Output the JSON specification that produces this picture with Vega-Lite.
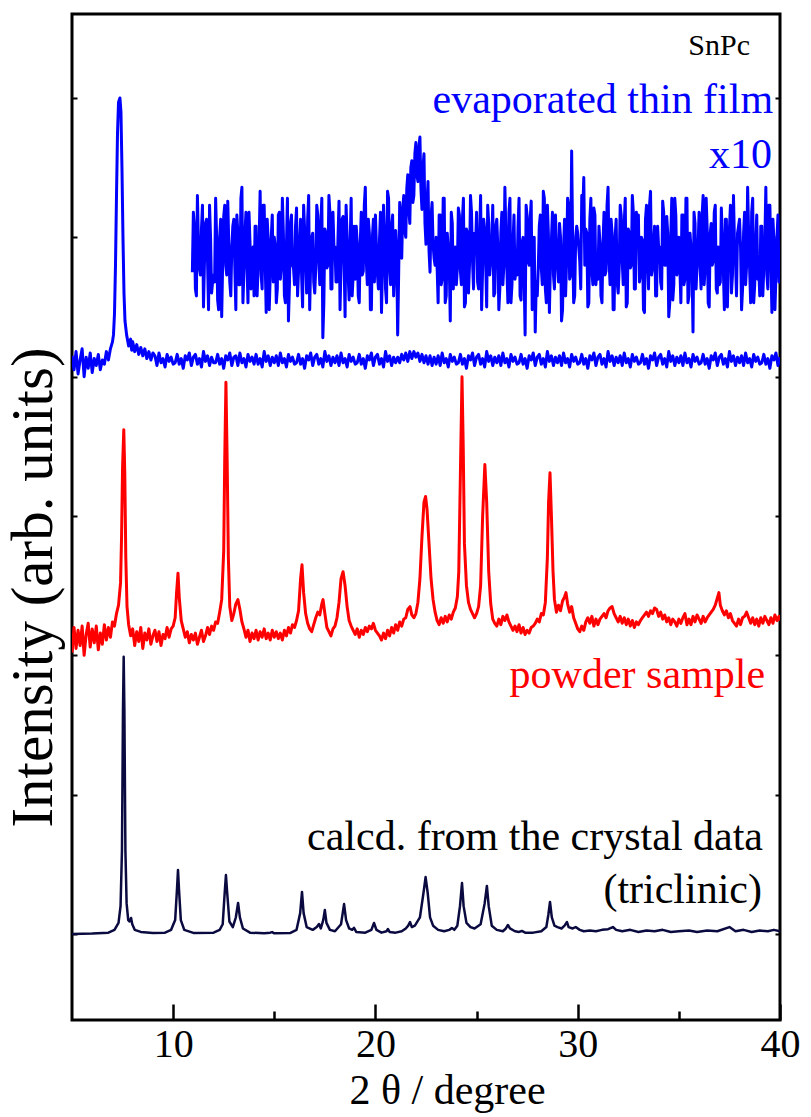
{
"$schema": "https://vega.github.io/schema/vega-lite/v6.json",
"width": 708, "height": 1006,
"autosize": {"type": "none"},
"padding": {"left": 72, "top": 14, "right": 31, "bottom": 97},
"config": {"view": {"stroke": "black", "strokeWidth": 3}, "font": "Liberation Serif, Times New Roman, Times, serif"},
"datasets": {
"calc": [{"x":5.0,"y":0},{"x":6.0,"y":0.003},{"x":6.8,"y":0.01},{"x":7.1,"y":0.03},{"x":7.3,"y":0.08},{"x":7.4,"y":0.2},{"x":7.47,"y":0.6},{"x":7.52,"y":1.6},{"x":7.555,"y":1.99},{"x":7.59,"y":1.6},{"x":7.64,"y":0.6},{"x":7.7,"y":0.22},{"x":7.78,"y":0.1},{"x":7.85,"y":0.09},{"x":7.92,"y":0.115},{"x":7.98,"y":0.07},{"x":8.1,"y":0.03},{"x":8.4,"y":0.015},{"x":9.0,"y":0.008},{"x":9.6,"y":0.01},{"x":9.9,"y":0.03},{"x":10.1,"y":0.1},{"x":10.19,"y":0.32},{"x":10.24,"y":0.459},{"x":10.29,"y":0.32},{"x":10.38,"y":0.1},{"x":10.55,"y":0.03},{"x":11.0,"y":0.008},{"x":12.0,"y":0.01},{"x":12.3,"y":0.03},{"x":12.45,"y":0.07},{"x":12.55,"y":0.3},{"x":12.61,"y":0.423},{"x":12.67,"y":0.3},{"x":12.78,"y":0.09},{"x":12.95,"y":0.05},{"x":13.1,"y":0.12},{"x":13.21,"y":0.223},{"x":13.3,"y":0.12},{"x":13.45,"y":0.04},{"x":13.8,"y":0.01},{"x":14.5,"y":0.005},{"x":14.8,"y":0.01},{"x":14.89,"y":0.014},{"x":15.0,"y":0.005},{"x":15.8,"y":0.008},{"x":16.1,"y":0.03},{"x":16.28,"y":0.15},{"x":16.37,"y":0.302},{"x":16.45,"y":0.15},{"x":16.6,"y":0.05},{"x":16.9,"y":0.03},{"x":17.1,"y":0.05},{"x":17.21,"y":0.072},{"x":17.3,"y":0.04},{"x":17.42,"y":0.1},{"x":17.5,"y":0.172},{"x":17.58,"y":0.08},{"x":17.75,"y":0.03},{"x":18.0,"y":0.02},{"x":18.3,"y":0.07},{"x":18.45,"y":0.215},{"x":18.55,"y":0.1},{"x":18.7,"y":0.04},{"x":18.85,"y":0.03},{"x":18.94,"y":0.045},{"x":19.05,"y":0.015},{"x":19.5,"y":0.01},{"x":19.8,"y":0.03},{"x":19.93,"y":0.079},{"x":20.05,"y":0.03},{"x":20.3,"y":0.01},{"x":20.55,"y":0.02},{"x":20.62,"y":0.036},{"x":20.7,"y":0.015},{"x":21.0,"y":0.01},{"x":21.3,"y":0.02},{"x":21.5,"y":0.04},{"x":21.62,"y":0.06},{"x":21.71,"y":0.086},{"x":21.8,"y":0.05},{"x":21.95,"y":0.06},{"x":22.2,"y":0.12},{"x":22.38,"y":0.3},{"x":22.48,"y":0.409},{"x":22.58,"y":0.3},{"x":22.7,"y":0.12},{"x":22.85,"y":0.06},{"x":23.1,"y":0.03},{"x":23.4,"y":0.02},{"x":23.65,"y":0.03},{"x":23.78,"y":0.043},{"x":23.9,"y":0.03},{"x":24.05,"y":0.06},{"x":24.18,"y":0.2},{"x":24.28,"y":0.366},{"x":24.36,"y":0.2},{"x":24.5,"y":0.08},{"x":24.7,"y":0.05},{"x":24.9,"y":0.04},{"x":25.2,"y":0.07},{"x":25.4,"y":0.22},{"x":25.51,"y":0.345},{"x":25.6,"y":0.2},{"x":25.75,"y":0.06},{"x":26.0,"y":0.03},{"x":26.3,"y":0.02},{"x":26.45,"y":0.04},{"x":26.55,"y":0.065},{"x":26.65,"y":0.04},{"x":26.9,"y":0.02},{"x":27.1,"y":0.015},{"x":27.24,"y":0.022},{"x":27.4,"y":0.01},{"x":27.8,"y":0.01},{"x":28.2,"y":0.02},{"x":28.45,"y":0.05},{"x":28.55,"y":0.14},{"x":28.63,"y":0.23},{"x":28.72,"y":0.12},{"x":28.85,"y":0.06},{"x":29.0,"y":0.05},{"x":29.2,"y":0.04},{"x":29.35,"y":0.06},{"x":29.47,"y":0.086},{"x":29.55,"y":0.05},{"x":29.75,"y":0.04},{"x":29.9,"y":0.05},{"x":30.1,"y":0.03},{"x":30.3,"y":0.02},{"x":30.6,"y":0.025},{"x":30.9,"y":0.02},{"x":31.2,"y":0.03},{"x":31.5,"y":0.035},{"x":31.74,"y":0.05},{"x":31.9,"y":0.03},{"x":32.2,"y":0.02},{"x":32.6,"y":0.03},{"x":33.0,"y":0.015},{"x":33.4,"y":0.025},{"x":33.8,"y":0.02},{"x":34.2,"y":0.03},{"x":34.6,"y":0.015},{"x":35.0,"y":0.02},{"x":35.5,"y":0.025},{"x":35.9,"y":0.015},{"x":36.4,"y":0.025},{"x":36.9,"y":0.02},{"x":37.5,"y":0.05},{"x":37.8,"y":0.02},{"x":38.2,"y":0.03},{"x":38.6,"y":0.015},{"x":39.0,"y":0.025},{"x":39.4,"y":0.02},{"x":39.7,"y":0.03},{"x":40.0,"y":0.02}],
"powder": [{"x":5.0,"y":2.02},{"x":5.1,"y":2.2},{"x":5.2,"y":2.05},{"x":5.3,"y":2.18},{"x":5.4,"y":2.07},{"x":5.5,"y":2.21},{"x":5.6,"y":2.0},{"x":5.7,"y":2.15},{"x":5.8,"y":2.23},{"x":5.9,"y":2.06},{"x":6.0,"y":2.19},{"x":6.1,"y":2.09},{"x":6.2,"y":2.21},{"x":6.3,"y":2.04},{"x":6.4,"y":2.16},{"x":6.5,"y":2.08},{"x":6.6,"y":2.22},{"x":6.7,"y":2.11},{"x":6.8,"y":2.2},{"x":6.9,"y":2.13},{"x":7.0,"y":2.24},{"x":7.1,"y":2.21},{"x":7.2,"y":2.3},{"x":7.3,"y":2.36},{"x":7.4,"y":2.52},{"x":7.45,"y":2.85},{"x":7.5,"y":3.35},{"x":7.56,"y":3.62},{"x":7.61,"y":3.3},{"x":7.66,"y":2.7},{"x":7.72,"y":2.35},{"x":7.8,"y":2.22},{"x":7.9,"y":2.14},{"x":8.0,"y":2.19},{"x":8.1,"y":2.07},{"x":8.2,"y":2.17},{"x":8.3,"y":2.1},{"x":8.4,"y":2.2},{"x":8.5,"y":2.05},{"x":8.6,"y":2.16},{"x":8.7,"y":2.11},{"x":8.8,"y":2.19},{"x":8.9,"y":2.08},{"x":9.0,"y":2.14},{"x":9.1,"y":2.18},{"x":9.2,"y":2.1},{"x":9.3,"y":2.17},{"x":9.4,"y":2.07},{"x":9.5,"y":2.15},{"x":9.6,"y":2.12},{"x":9.7,"y":2.2},{"x":9.8,"y":2.13},{"x":9.9,"y":2.19},{"x":10.0,"y":2.21},{"x":10.1,"y":2.27},{"x":10.17,"y":2.45},{"x":10.24,"y":2.59},{"x":10.3,"y":2.42},{"x":10.4,"y":2.25},{"x":10.5,"y":2.19},{"x":10.6,"y":2.13},{"x":10.7,"y":2.17},{"x":10.8,"y":2.09},{"x":10.9,"y":2.15},{"x":11.0,"y":2.11},{"x":11.1,"y":2.16},{"x":11.2,"y":2.08},{"x":11.3,"y":2.13},{"x":11.4,"y":2.18},{"x":11.5,"y":2.1},{"x":11.6,"y":2.14},{"x":11.7,"y":2.2},{"x":11.8,"y":2.15},{"x":11.9,"y":2.21},{"x":12.0,"y":2.18},{"x":12.1,"y":2.24},{"x":12.2,"y":2.23},{"x":12.3,"y":2.31},{"x":12.4,"y":2.4},{"x":12.5,"y":2.75},{"x":12.55,"y":3.4},{"x":12.61,"y":3.96},{"x":12.67,"y":3.4},{"x":12.73,"y":2.7},{"x":12.8,"y":2.35},{"x":12.9,"y":2.25},{"x":13.0,"y":2.3},{"x":13.1,"y":2.37},{"x":13.2,"y":2.4},{"x":13.3,"y":2.33},{"x":13.4,"y":2.24},{"x":13.5,"y":2.19},{"x":13.6,"y":2.13},{"x":13.7,"y":2.18},{"x":13.8,"y":2.1},{"x":13.9,"y":2.16},{"x":14.0,"y":2.12},{"x":14.1,"y":2.18},{"x":14.2,"y":2.11},{"x":14.3,"y":2.17},{"x":14.4,"y":2.13},{"x":14.5,"y":2.19},{"x":14.6,"y":2.12},{"x":14.7,"y":2.16},{"x":14.8,"y":2.11},{"x":14.9,"y":2.18},{"x":15.0,"y":2.13},{"x":15.1,"y":2.17},{"x":15.2,"y":2.12},{"x":15.3,"y":2.16},{"x":15.4,"y":2.11},{"x":15.5,"y":2.18},{"x":15.6,"y":2.14},{"x":15.7,"y":2.2},{"x":15.8,"y":2.16},{"x":15.9,"y":2.22},{"x":16.0,"y":2.2},{"x":16.1,"y":2.25},{"x":16.2,"y":2.32},{"x":16.3,"y":2.55},{"x":16.37,"y":2.65},{"x":16.45,"y":2.45},{"x":16.55,"y":2.3},{"x":16.65,"y":2.23},{"x":16.75,"y":2.19},{"x":16.85,"y":2.17},{"x":16.95,"y":2.22},{"x":17.05,"y":2.27},{"x":17.15,"y":2.31},{"x":17.25,"y":2.29},{"x":17.35,"y":2.37},{"x":17.41,"y":2.4},{"x":17.5,"y":2.3},{"x":17.6,"y":2.2},{"x":17.7,"y":2.17},{"x":17.8,"y":2.14},{"x":17.9,"y":2.19},{"x":18.0,"y":2.21},{"x":18.1,"y":2.27},{"x":18.2,"y":2.38},{"x":18.3,"y":2.55},{"x":18.4,"y":2.6},{"x":18.5,"y":2.5},{"x":18.6,"y":2.35},{"x":18.7,"y":2.25},{"x":18.8,"y":2.21},{"x":18.9,"y":2.18},{"x":19.0,"y":2.15},{"x":19.1,"y":2.19},{"x":19.2,"y":2.13},{"x":19.3,"y":2.18},{"x":19.4,"y":2.15},{"x":19.5,"y":2.2},{"x":19.6,"y":2.17},{"x":19.7,"y":2.21},{"x":19.8,"y":2.19},{"x":19.9,"y":2.23},{"x":20.0,"y":2.18},{"x":20.1,"y":2.16},{"x":20.2,"y":2.14},{"x":20.3,"y":2.11},{"x":20.4,"y":2.16},{"x":20.5,"y":2.12},{"x":20.6,"y":2.18},{"x":20.7,"y":2.14},{"x":20.8,"y":2.2},{"x":20.9,"y":2.16},{"x":21.0,"y":2.22},{"x":21.1,"y":2.18},{"x":21.2,"y":2.24},{"x":21.3,"y":2.21},{"x":21.4,"y":2.26},{"x":21.5,"y":2.27},{"x":21.6,"y":2.33},{"x":21.71,"y":2.35},{"x":21.8,"y":2.29},{"x":21.9,"y":2.27},{"x":22.0,"y":2.3},{"x":22.1,"y":2.38},{"x":22.2,"y":2.55},{"x":22.3,"y":2.85},{"x":22.4,"y":3.1},{"x":22.48,"y":3.14},{"x":22.55,"y":3.05},{"x":22.65,"y":2.8},{"x":22.75,"y":2.55},{"x":22.85,"y":2.4},{"x":22.95,"y":2.31},{"x":23.05,"y":2.25},{"x":23.15,"y":2.22},{"x":23.25,"y":2.27},{"x":23.35,"y":2.23},{"x":23.45,"y":2.28},{"x":23.55,"y":2.24},{"x":23.65,"y":2.29},{"x":23.75,"y":2.26},{"x":23.85,"y":2.31},{"x":23.95,"y":2.34},{"x":24.05,"y":2.42},{"x":24.12,"y":2.6},{"x":24.2,"y":3.3},{"x":24.28,"y":4.0},{"x":24.34,"y":3.5},{"x":24.4,"y":2.8},{"x":24.5,"y":2.5},{"x":24.6,"y":2.38},{"x":24.7,"y":2.33},{"x":24.8,"y":2.3},{"x":24.9,"y":2.27},{"x":25.0,"y":2.3},{"x":25.1,"y":2.35},{"x":25.2,"y":2.5},{"x":25.3,"y":3.0},{"x":25.41,"y":3.37},{"x":25.5,"y":3.1},{"x":25.6,"y":2.6},{"x":25.7,"y":2.37},{"x":25.8,"y":2.26},{"x":25.9,"y":2.23},{"x":26.0,"y":2.21},{"x":26.1,"y":2.26},{"x":26.2,"y":2.22},{"x":26.3,"y":2.28},{"x":26.4,"y":2.25},{"x":26.5,"y":2.29},{"x":26.6,"y":2.24},{"x":26.7,"y":2.21},{"x":26.8,"y":2.18},{"x":26.9,"y":2.21},{"x":27.0,"y":2.17},{"x":27.1,"y":2.22},{"x":27.2,"y":2.16},{"x":27.3,"y":2.2},{"x":27.4,"y":2.15},{"x":27.5,"y":2.18},{"x":27.6,"y":2.16},{"x":27.7,"y":2.2},{"x":27.8,"y":2.21},{"x":27.9,"y":2.23},{"x":28.0,"y":2.26},{"x":28.1,"y":2.24},{"x":28.2,"y":2.3},{"x":28.3,"y":2.29},{"x":28.4,"y":2.38},{"x":28.5,"y":2.7},{"x":28.56,"y":3.1},{"x":28.63,"y":3.31},{"x":28.7,"y":3.0},{"x":28.78,"y":2.6},{"x":28.85,"y":2.4},{"x":28.95,"y":2.31},{"x":29.05,"y":2.36},{"x":29.15,"y":2.32},{"x":29.25,"y":2.39},{"x":29.35,"y":2.42},{"x":29.42,"y":2.45},{"x":29.5,"y":2.37},{"x":29.6,"y":2.31},{"x":29.7,"y":2.35},{"x":29.8,"y":2.27},{"x":29.9,"y":2.23},{"x":30.0,"y":2.19},{"x":30.1,"y":2.17},{"x":30.2,"y":2.21},{"x":30.3,"y":2.18},{"x":30.4,"y":2.24},{"x":30.5,"y":2.27},{"x":30.6,"y":2.23},{"x":30.7,"y":2.28},{"x":30.8,"y":2.21},{"x":30.9,"y":2.26},{"x":31.0,"y":2.22},{"x":31.1,"y":2.26},{"x":31.2,"y":2.28},{"x":31.3,"y":2.3},{"x":31.4,"y":2.27},{"x":31.5,"y":2.32},{"x":31.6,"y":2.34},{"x":31.7,"y":2.35},{"x":31.8,"y":2.3},{"x":31.9,"y":2.27},{"x":32.0,"y":2.24},{"x":32.1,"y":2.28},{"x":32.2,"y":2.23},{"x":32.3,"y":2.27},{"x":32.4,"y":2.22},{"x":32.5,"y":2.26},{"x":32.6,"y":2.21},{"x":32.7,"y":2.25},{"x":32.8,"y":2.2},{"x":32.9,"y":2.24},{"x":33.0,"y":2.22},{"x":33.1,"y":2.25},{"x":33.2,"y":2.27},{"x":33.3,"y":2.29},{"x":33.4,"y":2.31},{"x":33.5,"y":2.28},{"x":33.6,"y":2.32},{"x":33.7,"y":2.3},{"x":33.8,"y":2.34},{"x":33.9,"y":2.33},{"x":34.0,"y":2.28},{"x":34.1,"y":2.31},{"x":34.2,"y":2.26},{"x":34.3,"y":2.29},{"x":34.4,"y":2.24},{"x":34.5,"y":2.27},{"x":34.6,"y":2.22},{"x":34.7,"y":2.26},{"x":34.8,"y":2.24},{"x":34.9,"y":2.21},{"x":35.0,"y":2.26},{"x":35.1,"y":2.23},{"x":35.2,"y":2.27},{"x":35.3,"y":2.3},{"x":35.4,"y":2.22},{"x":35.5,"y":2.26},{"x":35.6,"y":2.22},{"x":35.7,"y":2.28},{"x":35.8,"y":2.24},{"x":35.9,"y":2.29},{"x":36.0,"y":2.26},{"x":36.1,"y":2.23},{"x":36.2,"y":2.28},{"x":36.3,"y":2.24},{"x":36.4,"y":2.27},{"x":36.5,"y":2.29},{"x":36.6,"y":2.31},{"x":36.7,"y":2.33},{"x":36.8,"y":2.36},{"x":36.9,"y":2.41},{"x":36.98,"y":2.45},{"x":37.05,"y":2.36},{"x":37.15,"y":2.32},{"x":37.25,"y":2.29},{"x":37.35,"y":2.32},{"x":37.45,"y":2.27},{"x":37.55,"y":2.3},{"x":37.65,"y":2.25},{"x":37.75,"y":2.23},{"x":37.85,"y":2.21},{"x":37.95,"y":2.26},{"x":38.05,"y":2.22},{"x":38.15,"y":2.27},{"x":38.25,"y":2.28},{"x":38.35,"y":2.31},{"x":38.45,"y":2.27},{"x":38.55,"y":2.23},{"x":38.65,"y":2.27},{"x":38.75,"y":2.22},{"x":38.85,"y":2.26},{"x":38.95,"y":2.21},{"x":39.05,"y":2.27},{"x":39.15,"y":2.23},{"x":39.25,"y":2.28},{"x":39.35,"y":2.25},{"x":39.45,"y":2.22},{"x":39.55,"y":2.27},{"x":39.65,"y":2.23},{"x":39.75,"y":2.29},{"x":39.85,"y":2.25},{"x":39.95,"y":2.28},{"x":40.0,"y":2.25}],
"film": [{"x":5.0,"y":4.15},{"x":5.1,"y":4.05},{"x":5.2,"y":4.18},{"x":5.3,"y":4.02},{"x":5.4,"y":4.12},{"x":5.5,"y":4.2},{"x":5.6,"y":4.0},{"x":5.7,"y":4.14},{"x":5.8,"y":4.06},{"x":5.9,"y":4.17},{"x":6.0,"y":4.03},{"x":6.1,"y":4.13},{"x":6.2,"y":4.08},{"x":6.3,"y":4.16},{"x":6.4,"y":4.05},{"x":6.5,"y":4.12},{"x":6.6,"y":4.09},{"x":6.7,"y":4.18},{"x":6.8,"y":4.12},{"x":6.9,"y":4.2},{"x":7.0,"y":4.25},{"x":7.05,"y":4.3},{"x":7.1,"y":4.45},{"x":7.15,"y":4.8},{"x":7.2,"y":5.3},{"x":7.25,"y":5.75},{"x":7.3,"y":5.97},{"x":7.37,"y":6.0},{"x":7.42,"y":5.9},{"x":7.47,"y":5.5},{"x":7.52,"y":5.0},{"x":7.57,"y":4.6},{"x":7.62,"y":4.4},{"x":7.7,"y":4.3},{"x":7.8,"y":4.22},{"x":7.9,"y":4.27},{"x":7.95,"y":4.19},{"x":8.0,"y":4.25},{"x":8.1,"y":4.18},{"x":8.2,"y":4.23},{"x":8.3,"y":4.16},{"x":8.4,"y":4.21},{"x":8.5,"y":4.15},{"x":8.6,"y":4.2},{"x":8.7,"y":4.13},{"x":8.8,"y":4.18},{"x":8.9,"y":4.12},{"x":9.0,"y":4.17},
{"x":9.1,"y":4.15},{"x":9.2,"y":4.08},{"x":9.3,"y":4.17},{"x":9.4,"y":4.1},{"x":9.5,"y":4.13},{"x":9.6,"y":4.07},{"x":9.7,"y":4.16},{"x":9.8,"y":4.11},{"x":9.9,"y":4.14},{"x":10.0,"y":4.09},
{"x":10.1,"y":4.1},{"x":10.2,"y":4.16},{"x":10.3,"y":4.09},{"x":10.4,"y":4.13},{"x":10.5,"y":4.06},{"x":10.6,"y":4.15},{"x":10.7,"y":4.12},{"x":10.8,"y":4.17},{"x":10.9,"y":4.08},{"x":11.0,"y":4.14},
{"x":11.1,"y":4.16},{"x":11.2,"y":4.09},{"x":11.3,"y":4.13},{"x":11.4,"y":4.07},{"x":11.5,"y":4.18},{"x":11.6,"y":4.11},{"x":11.7,"y":4.15},{"x":11.8,"y":4.08},{"x":11.9,"y":4.14},{"x":12.0,"y":4.1},
{"x":12.1,"y":4.1},{"x":12.2,"y":4.16},{"x":12.3,"y":4.09},{"x":12.4,"y":4.13},{"x":12.5,"y":4.06},{"x":12.6,"y":4.15},{"x":12.7,"y":4.12},{"x":12.8,"y":4.17},{"x":12.9,"y":4.08},{"x":13.0,"y":4.14},
{"x":13.1,"y":4.15},{"x":13.2,"y":4.08},{"x":13.3,"y":4.17},{"x":13.4,"y":4.1},{"x":13.5,"y":4.13},{"x":13.6,"y":4.07},{"x":13.7,"y":4.16},{"x":13.8,"y":4.11},{"x":13.9,"y":4.14},{"x":14.0,"y":4.09},
{"x":14.1,"y":4.16},{"x":14.2,"y":4.09},{"x":14.3,"y":4.13},{"x":14.4,"y":4.07},{"x":14.5,"y":4.18},{"x":14.6,"y":4.11},{"x":14.7,"y":4.15},{"x":14.8,"y":4.08},{"x":14.9,"y":4.14},{"x":15.0,"y":4.1},
{"x":15.1,"y":4.15},{"x":15.2,"y":4.08},{"x":15.3,"y":4.17},{"x":15.4,"y":4.1},{"x":15.5,"y":4.13},{"x":15.6,"y":4.07},{"x":15.7,"y":4.16},{"x":15.8,"y":4.11},{"x":15.9,"y":4.14},{"x":16.0,"y":4.09},
{"x":16.1,"y":4.1},{"x":16.2,"y":4.16},{"x":16.3,"y":4.09},{"x":16.4,"y":4.13},{"x":16.5,"y":4.06},{"x":16.6,"y":4.15},{"x":16.7,"y":4.12},{"x":16.8,"y":4.17},{"x":16.9,"y":4.08},{"x":17.0,"y":4.14},
{"x":17.1,"y":4.16},{"x":17.2,"y":4.09},{"x":17.3,"y":4.13},{"x":17.4,"y":4.07},{"x":17.5,"y":4.18},{"x":17.6,"y":4.11},{"x":17.7,"y":4.15},{"x":17.8,"y":4.08},{"x":17.9,"y":4.14},{"x":18.0,"y":4.1},
{"x":18.1,"y":4.15},{"x":18.2,"y":4.08},{"x":18.3,"y":4.17},{"x":18.4,"y":4.1},{"x":18.5,"y":4.13},{"x":18.6,"y":4.07},{"x":18.7,"y":4.16},{"x":18.8,"y":4.11},{"x":18.9,"y":4.14},{"x":19.0,"y":4.09},
{"x":19.1,"y":4.1},{"x":19.2,"y":4.16},{"x":19.3,"y":4.09},{"x":19.4,"y":4.13},{"x":19.5,"y":4.06},{"x":19.6,"y":4.15},{"x":19.7,"y":4.12},{"x":19.8,"y":4.17},{"x":19.9,"y":4.08},{"x":20.0,"y":4.14},
{"x":20.1,"y":4.16},{"x":20.2,"y":4.09},{"x":20.3,"y":4.13},{"x":20.4,"y":4.07},{"x":20.5,"y":4.18},{"x":20.6,"y":4.11},{"x":20.7,"y":4.15},{"x":20.8,"y":4.08},{"x":20.9,"y":4.14},{"x":21.0,"y":4.1},
{"x":21.1,"y":4.14},{"x":21.2,"y":4.1},{"x":21.3,"y":4.16},{"x":21.4,"y":4.12},{"x":21.5,"y":4.17},{"x":21.6,"y":4.11},{"x":21.7,"y":4.18},{"x":21.8,"y":4.13},{"x":21.9,"y":4.18},{"x":22.0,"y":4.14},
{"x":22.1,"y":4.17},{"x":22.2,"y":4.11},{"x":22.3,"y":4.16},{"x":22.4,"y":4.1},{"x":22.5,"y":4.15},{"x":22.6,"y":4.09},{"x":22.7,"y":4.15},{"x":22.8,"y":4.08},{"x":22.9,"y":4.14},{"x":23.0,"y":4.09},
{"x":23.1,"y":4.15},{"x":23.2,"y":4.08},{"x":23.3,"y":4.17},{"x":23.4,"y":4.1},{"x":23.5,"y":4.13},{"x":23.6,"y":4.07},{"x":23.7,"y":4.16},{"x":23.8,"y":4.11},{"x":23.9,"y":4.14},{"x":24.0,"y":4.09},
{"x":24.1,"y":4.1},{"x":24.2,"y":4.16},{"x":24.3,"y":4.09},{"x":24.4,"y":4.13},{"x":24.5,"y":4.06},{"x":24.6,"y":4.15},{"x":24.7,"y":4.12},{"x":24.8,"y":4.17},{"x":24.9,"y":4.08},{"x":25.0,"y":4.14},
{"x":25.1,"y":4.16},{"x":25.2,"y":4.09},{"x":25.3,"y":4.13},{"x":25.4,"y":4.07},{"x":25.5,"y":4.18},{"x":25.6,"y":4.11},{"x":25.7,"y":4.15},{"x":25.8,"y":4.08},{"x":25.9,"y":4.14},{"x":26.0,"y":4.1},
{"x":26.1,"y":4.15},{"x":26.2,"y":4.08},{"x":26.3,"y":4.17},{"x":26.4,"y":4.1},{"x":26.5,"y":4.13},{"x":26.6,"y":4.07},{"x":26.7,"y":4.16},{"x":26.8,"y":4.11},{"x":26.9,"y":4.14},{"x":27.0,"y":4.09},
{"x":27.1,"y":4.1},{"x":27.2,"y":4.16},{"x":27.3,"y":4.09},{"x":27.4,"y":4.13},{"x":27.5,"y":4.06},{"x":27.6,"y":4.15},{"x":27.7,"y":4.12},{"x":27.8,"y":4.17},{"x":27.9,"y":4.08},{"x":28.0,"y":4.14},
{"x":28.1,"y":4.16},{"x":28.2,"y":4.09},{"x":28.3,"y":4.13},{"x":28.4,"y":4.07},{"x":28.5,"y":4.18},{"x":28.6,"y":4.11},{"x":28.7,"y":4.15},{"x":28.8,"y":4.08},{"x":28.9,"y":4.14},{"x":29.0,"y":4.1},
{"x":29.1,"y":4.15},{"x":29.2,"y":4.08},{"x":29.3,"y":4.17},{"x":29.4,"y":4.1},{"x":29.5,"y":4.13},{"x":29.6,"y":4.07},{"x":29.7,"y":4.16},{"x":29.8,"y":4.11},{"x":29.9,"y":4.14},{"x":30.0,"y":4.09},
{"x":30.1,"y":4.1},{"x":30.2,"y":4.16},{"x":30.3,"y":4.09},{"x":30.4,"y":4.13},{"x":30.5,"y":4.06},{"x":30.6,"y":4.15},{"x":30.7,"y":4.12},{"x":30.8,"y":4.17},{"x":30.9,"y":4.08},{"x":31.0,"y":4.14},
{"x":31.1,"y":4.16},{"x":31.2,"y":4.09},{"x":31.3,"y":4.13},{"x":31.4,"y":4.07},{"x":31.5,"y":4.18},{"x":31.6,"y":4.11},{"x":31.7,"y":4.15},{"x":31.8,"y":4.08},{"x":31.9,"y":4.14},{"x":32.0,"y":4.1},
{"x":32.1,"y":4.15},{"x":32.2,"y":4.08},{"x":32.3,"y":4.17},{"x":32.4,"y":4.1},{"x":32.5,"y":4.13},{"x":32.6,"y":4.07},{"x":32.7,"y":4.16},{"x":32.8,"y":4.11},{"x":32.9,"y":4.14},{"x":33.0,"y":4.09},
{"x":33.1,"y":4.1},{"x":33.2,"y":4.16},{"x":33.3,"y":4.09},{"x":33.4,"y":4.13},{"x":33.5,"y":4.06},{"x":33.6,"y":4.15},{"x":33.7,"y":4.12},{"x":33.8,"y":4.17},{"x":33.9,"y":4.08},{"x":34.0,"y":4.14},
{"x":34.1,"y":4.16},{"x":34.2,"y":4.09},{"x":34.3,"y":4.13},{"x":34.4,"y":4.07},{"x":34.5,"y":4.18},{"x":34.6,"y":4.11},{"x":34.7,"y":4.15},{"x":34.8,"y":4.08},{"x":34.9,"y":4.14},{"x":35.0,"y":4.1},
{"x":35.1,"y":4.15},{"x":35.2,"y":4.08},{"x":35.3,"y":4.17},{"x":35.4,"y":4.1},{"x":35.5,"y":4.13},{"x":35.6,"y":4.07},{"x":35.7,"y":4.16},{"x":35.8,"y":4.11},{"x":35.9,"y":4.14},{"x":36.0,"y":4.09},
{"x":36.1,"y":4.1},{"x":36.2,"y":4.16},{"x":36.3,"y":4.09},{"x":36.4,"y":4.13},{"x":36.5,"y":4.06},{"x":36.6,"y":4.15},{"x":36.7,"y":4.12},{"x":36.8,"y":4.17},{"x":36.9,"y":4.08},{"x":37.0,"y":4.14},
{"x":37.1,"y":4.16},{"x":37.2,"y":4.09},{"x":37.3,"y":4.13},{"x":37.4,"y":4.07},{"x":37.5,"y":4.18},{"x":37.6,"y":4.11},{"x":37.7,"y":4.15},{"x":37.8,"y":4.08},{"x":37.9,"y":4.14},{"x":38.0,"y":4.1},
{"x":38.1,"y":4.15},{"x":38.2,"y":4.08},{"x":38.3,"y":4.17},{"x":38.4,"y":4.1},{"x":38.5,"y":4.13},{"x":38.6,"y":4.07},{"x":38.7,"y":4.16},{"x":38.8,"y":4.11},{"x":38.9,"y":4.14},{"x":39.0,"y":4.09},
{"x":39.1,"y":4.1},{"x":39.2,"y":4.16},{"x":39.3,"y":4.09},{"x":39.4,"y":4.13},{"x":39.5,"y":4.06},{"x":39.6,"y":4.15},{"x":39.7,"y":4.12},{"x":39.8,"y":4.17},{"x":39.9,"y":4.08},{"x":40.0,"y":4.14}],
"film10": [{"x":10.95,"y":4.75},
{"x":11.0,"y":5.18},{"x":11.05,"y":5.08},{"x":11.1,"y":4.63},{"x":11.15,"y":4.58},{"x":11.2,"y":5.3},{"x":11.25,"y":4.96},{"x":11.3,"y":4.78},{"x":11.35,"y":4.73},{"x":11.4,"y":5.06},{"x":11.45,"y":5.23},{"x":11.5,"y":4.5},{"x":11.55,"y":4.83},{"x":11.6,"y":5.1},{"x":11.65,"y":5.13},{"x":11.7,"y":4.83},{"x":11.75,"y":4.48},{"x":11.8,"y":5.23},{"x":11.85,"y":5.0},{"x":11.9,"y":4.6},{"x":11.95,"y":4.68},
{"x":12.0,"y":4.73},{"x":12.05,"y":4.68},{"x":12.1,"y":5.28},{"x":12.15,"y":5.0},{"x":12.2,"y":4.55},{"x":12.25,"y":4.48},{"x":12.3,"y":5.0},{"x":12.35,"y":5.13},{"x":12.4,"y":4.43},{"x":12.45,"y":4.83},{"x":12.5,"y":5.15},{"x":12.55,"y":5.23},{"x":12.6,"y":4.8},{"x":12.65,"y":4.73},{"x":12.7,"y":5.26},{"x":12.75,"y":4.96},{"x":12.8,"y":4.68},{"x":12.85,"y":4.58},{"x":12.9,"y":4.93},{"x":12.95,"y":5.08},
{"x":13.0,"y":5.13},{"x":13.05,"y":4.78},{"x":13.1,"y":4.48},{"x":13.15,"y":5.16},{"x":13.2,"y":5.03},{"x":13.25,"y":4.66},{"x":13.3,"y":4.66},{"x":13.35,"y":5.28},{"x":13.4,"y":5.36},{"x":13.45,"y":4.53},{"x":13.5,"y":4.76},{"x":13.55,"y":5.03},{"x":13.6,"y":5.18},{"x":13.65,"y":4.8},{"x":13.7,"y":4.53},{"x":13.75,"y":5.18},{"x":13.8,"y":4.96},{"x":13.85,"y":4.63},{"x":13.9,"y":4.7},{"x":13.95,"y":4.93},
{"x":14.0,"y":4.58},{"x":14.05,"y":5.08},{"x":14.1,"y":5.08},{"x":14.15,"y":4.58},{"x":14.2,"y":4.78},{"x":14.25,"y":4.96},{"x":14.3,"y":5.33},{"x":14.35,"y":4.73},{"x":14.4,"y":4.63},{"x":14.45,"y":5.23},{"x":14.5,"y":5.23},{"x":14.55,"y":4.83},{"x":14.6,"y":4.46},{"x":14.65,"y":5.13},{"x":14.7,"y":4.98},{"x":14.75,"y":4.48},{"x":14.8,"y":4.73},{"x":14.85,"y":5.0},{"x":14.9,"y":5.16},{"x":14.95,"y":4.68},
{"x":15.0,"y":5.0},{"x":15.05,"y":4.93},{"x":15.1,"y":4.53},{"x":15.15,"y":4.63},{"x":15.2,"y":5.16},{"x":15.25,"y":5.18},{"x":15.3,"y":4.7},{"x":15.35,"y":4.8},{"x":15.4,"y":5.28},{"x":15.45,"y":5.03},{"x":15.5,"y":4.58},{"x":15.55,"y":4.53},{"x":15.6,"y":4.93},{"x":15.65,"y":5.28},{"x":15.7,"y":4.4},{"x":15.75,"y":4.66},{"x":15.8,"y":5.1},{"x":15.85,"y":5.16},{"x":15.9,"y":4.8},{"x":15.95,"y":4.78},
{"x":16.0,"y":4.66},{"x":16.05,"y":5.08},{"x":16.1,"y":5.21},{"x":16.15,"y":4.58},{"x":16.2,"y":4.76},{"x":16.25,"y":4.96},{"x":16.3,"y":5.13},{"x":16.35,"y":4.73},{"x":16.4,"y":4.5},{"x":16.45,"y":5.23},{"x":16.5,"y":5.06},{"x":16.55,"y":4.83},{"x":16.6,"y":4.6},{"x":16.65,"y":5.13},{"x":16.7,"y":5.3},{"x":16.75,"y":4.48},{"x":16.8,"y":4.83},{"x":16.85,"y":5.0},{"x":16.9,"y":5.03},{"x":16.95,"y":4.68},
{"x":17.0,"y":4.6},{"x":17.05,"y":4.78},{"x":17.1,"y":5.23},{"x":17.15,"y":5.16},{"x":17.2,"y":4.83},{"x":17.25,"y":4.66},{"x":17.3,"y":5.1},{"x":17.35,"y":5.28},{"x":17.4,"y":4.28},{"x":17.45,"y":4.53},{"x":17.5,"y":5.06},{"x":17.55,"y":5.03},{"x":17.6,"y":4.78},{"x":17.65,"y":4.8},{"x":17.7,"y":5.3},{"x":17.75,"y":5.18},{"x":17.8,"y":4.63},{"x":17.85,"y":4.63},{"x":17.9,"y":5.18},{"x":17.95,"y":4.93},
{"x":18.0,"y":4.93},{"x":18.05,"y":4.68},{"x":18.1,"y":4.68},{"x":18.15,"y":5.0},{"x":18.2,"y":5.26},{"x":18.25,"y":4.48},{"x":18.3,"y":4.8},{"x":18.35,"y":5.13},{"x":18.4,"y":5.15},{"x":18.45,"y":4.83},{"x":18.5,"y":4.43},{"x":18.55,"y":5.23},{"x":18.6,"y":5.0},{"x":18.65,"y":4.73},{"x":18.7,"y":4.55},{"x":18.75,"y":4.96},{"x":18.8,"y":5.28},{"x":18.85,"y":4.58},{"x":18.9,"y":4.73},{"x":18.95,"y":5.08},
{"x":19.0,"y":4.7},{"x":19.05,"y":5.08},{"x":19.1,"y":4.96},{"x":19.15,"y":4.58},{"x":19.2,"y":4.53},{"x":19.25,"y":4.96},{"x":19.3,"y":5.18},{"x":19.35,"y":4.73},{"x":19.4,"y":4.76},{"x":19.45,"y":5.23},{"x":19.5,"y":5.36},{"x":19.55,"y":4.83},{"x":19.6,"y":4.66},{"x":19.65,"y":5.13},{"x":19.7,"y":5.03},{"x":19.75,"y":4.48},{"x":19.8,"y":4.48},{"x":19.85,"y":5.0},{"x":19.9,"y":5.13},{"x":19.95,"y":4.68},
{"x":20.0,"y":5.16},{"x":20.05,"y":4.93},{"x":20.1,"y":4.73},{"x":20.15,"y":4.63},{"x":20.2,"y":4.98},{"x":20.25,"y":5.18},{"x":20.3,"y":4.46},{"x":20.35,"y":4.8},{"x":20.4,"y":5.23},{"x":20.45,"y":5.03},{"x":20.5,"y":4.63},{"x":20.55,"y":4.53},{"x":20.6,"y":5.33},{"x":20.65,"y":5.28},{"x":20.7,"y":4.78},{"x":20.75,"y":4.66},{"x":20.8,"y":5.08},{"x":20.85,"y":5.16},{"x":20.9,"y":4.58},{"x":20.95,"y":4.78},
{"x":21.0,"y":5.05},{"x":21.05,"y":4.9},{"x":21.1,"y":4.3},{"x":21.15,"y":4.75},{"x":21.2,"y":5.25},{"x":21.25,"y":5.1},{"x":21.3,"y":4.85},{"x":21.35,"y":5.2},{"x":21.4,"y":5.3},{"x":21.45,"y":5.05},{"x":21.5,"y":5.0},{"x":21.55,"y":5.35},{"x":21.6,"y":5.45},{"x":21.65,"y":5.2},{"x":21.7,"y":5.1},{"x":21.75,"y":5.5},{"x":21.8,"y":5.55},{"x":21.85,"y":5.25},{"x":21.9,"y":5.3},{"x":21.95,"y":5.6},
{"x":22.0,"y":5.68},{"x":22.05,"y":5.45},{"x":22.1,"y":5.4},{"x":22.15,"y":5.65},{"x":22.2,"y":5.72},{"x":22.25,"y":5.35},{"x":22.3,"y":5.2},{"x":22.35,"y":5.5},{"x":22.4,"y":5.6},{"x":22.45,"y":5.1},{"x":22.5,"y":4.95},{"x":22.55,"y":5.25},{"x":22.6,"y":5.4},{"x":22.65,"y":4.9},{"x":22.7,"y":4.75},{"x":22.75,"y":5.15},{"x":22.8,"y":5.25},{"x":22.85,"y":4.95},{"x":22.9,"y":4.85},{"x":22.95,"y":4.8},
{"x":23.0,"y":5.0},{"x":23.05,"y":4.78},{"x":23.1,"y":4.53},{"x":23.15,"y":5.16},{"x":23.2,"y":5.16},{"x":23.25,"y":4.66},{"x":23.3,"y":4.7},{"x":23.35,"y":5.28},{"x":23.4,"y":5.28},{"x":23.45,"y":4.53},{"x":23.5,"y":4.58},{"x":23.55,"y":5.03},{"x":23.6,"y":4.93},{"x":23.65,"y":4.8},{"x":23.7,"y":4.4},{"x":23.75,"y":5.18},{"x":23.8,"y":5.1},{"x":23.85,"y":4.63},{"x":23.9,"y":4.8},{"x":23.95,"y":4.93},
{"x":24.0,"y":4.66},{"x":24.05,"y":4.78},{"x":24.1,"y":5.21},{"x":24.15,"y":5.16},{"x":24.2,"y":4.76},{"x":24.25,"y":4.66},{"x":24.3,"y":5.13},{"x":24.35,"y":5.28},{"x":24.4,"y":4.5},{"x":24.45,"y":4.53},{"x":24.5,"y":5.06},{"x":24.55,"y":5.03},{"x":24.6,"y":4.6},{"x":24.65,"y":4.8},{"x":24.7,"y":5.3},{"x":24.75,"y":5.18},{"x":24.8,"y":4.83},{"x":24.85,"y":4.63},{"x":24.9,"y":5.03},{"x":24.95,"y":4.93},
{"x":25.0,"y":5.18},{"x":25.05,"y":4.68},{"x":25.1,"y":4.63},{"x":25.15,"y":5.0},{"x":25.2,"y":5.3},{"x":25.25,"y":4.48},{"x":25.3,"y":4.78},{"x":25.35,"y":5.13},{"x":25.4,"y":5.06},{"x":25.45,"y":4.83},{"x":25.5,"y":4.5},{"x":25.55,"y":5.23},{"x":25.6,"y":5.1},{"x":25.65,"y":4.73},{"x":25.7,"y":4.83},{"x":25.75,"y":4.96},{"x":25.8,"y":5.23},{"x":25.85,"y":4.58},{"x":25.9,"y":4.6},{"x":25.95,"y":5.08},
{"x":26.0,"y":5.13},{"x":26.05,"y":4.93},{"x":26.1,"y":4.48},{"x":26.15,"y":4.63},{"x":26.2,"y":5.03},{"x":26.25,"y":5.18},{"x":26.3,"y":4.66},{"x":26.35,"y":4.8},{"x":26.4,"y":5.36},{"x":26.45,"y":5.03},{"x":26.5,"y":4.76},{"x":26.55,"y":4.53},{"x":26.6,"y":5.18},{"x":26.65,"y":5.28},{"x":26.7,"y":4.53},{"x":26.75,"y":4.66},{"x":26.8,"y":4.96},{"x":26.85,"y":5.16},{"x":26.9,"y":4.7},{"x":26.95,"y":4.78},
{"x":27.0,"y":4.73},{"x":27.05,"y":5.08},{"x":27.1,"y":5.28},{"x":27.15,"y":4.58},{"x":27.2,"y":4.55},{"x":27.25,"y":4.96},{"x":27.3,"y":5.0},{"x":27.35,"y":4.73},{"x":27.4,"y":4.3},{"x":27.45,"y":5.23},{"x":27.5,"y":5.15},{"x":27.55,"y":4.83},{"x":27.6,"y":4.8},{"x":27.65,"y":5.13},{"x":27.7,"y":5.26},{"x":27.75,"y":4.48},{"x":27.8,"y":4.68},{"x":27.85,"y":5.0},{"x":27.9,"y":4.32},{"x":27.95,"y":4.68},
{"x":28.0,"y":4.58},{"x":28.05,"y":4.78},{"x":28.1,"y":5.08},{"x":28.15,"y":5.16},{"x":28.2,"y":4.78},{"x":28.25,"y":4.66},{"x":28.3,"y":5.33},{"x":28.35,"y":5.28},{"x":28.4,"y":4.63},{"x":28.45,"y":4.53},{"x":28.5,"y":5.23},{"x":28.55,"y":5.03},{"x":28.6,"y":4.46},{"x":28.65,"y":4.8},{"x":28.7,"y":4.98},{"x":28.75,"y":5.18},{"x":28.8,"y":4.73},{"x":28.85,"y":4.63},{"x":28.9,"y":5.16},{"x":28.95,"y":4.93},
{"x":29.0,"y":4.8},{"x":29.05,"y":4.68},{"x":29.1,"y":5.1},{"x":29.15,"y":5.0},{"x":29.2,"y":4.4},{"x":29.25,"y":4.48},{"x":29.3,"y":4.93},{"x":29.35,"y":5.13},{"x":29.4,"y":4.58},{"x":29.45,"y":4.83},{"x":29.5,"y":5.28},{"x":29.55,"y":5.23},{"x":29.6,"y":4.7},{"x":29.65,"y":4.73},{"x":29.7,"y":5.62},{"x":29.75,"y":4.96},{"x":29.8,"y":4.53},{"x":29.85,"y":4.58},{"x":29.9,"y":5.0},{"x":29.95,"y":5.08},
{"x":30.0,"y":5.03},{"x":30.05,"y":4.93},{"x":30.1,"y":4.83},{"x":30.15,"y":4.63},{"x":30.2,"y":5.3},{"x":30.25,"y":5.18},{"x":30.3,"y":5.43},{"x":30.35,"y":4.8},{"x":30.4,"y":5.06},{"x":30.45,"y":5.03},{"x":30.5,"y":4.5},{"x":30.55,"y":4.53},{"x":30.6,"y":5.13},{"x":30.65,"y":5.28},{"x":30.7,"y":4.76},{"x":30.75,"y":4.66},{"x":30.8,"y":5.21},{"x":30.85,"y":5.16},{"x":30.9,"y":4.66},{"x":30.95,"y":4.78},
{"x":31.0,"y":4.7},{"x":31.05,"y":5.08},{"x":31.1,"y":4.96},{"x":31.15,"y":4.58},{"x":31.2,"y":4.53},{"x":31.25,"y":4.96},{"x":31.3,"y":5.18},{"x":31.35,"y":4.73},{"x":31.4,"y":4.76},{"x":31.45,"y":5.23},{"x":31.5,"y":5.36},{"x":31.55,"y":4.83},{"x":31.6,"y":4.66},{"x":31.65,"y":5.13},{"x":31.7,"y":5.03},{"x":31.75,"y":4.48},{"x":31.8,"y":4.48},{"x":31.85,"y":5.0},{"x":31.9,"y":5.13},{"x":31.95,"y":4.68},
{"x":32.0,"y":4.6},{"x":32.05,"y":4.78},{"x":32.1,"y":5.23},{"x":32.15,"y":5.16},{"x":32.2,"y":4.83},{"x":32.25,"y":4.66},{"x":32.3,"y":5.1},{"x":32.35,"y":5.28},{"x":32.4,"y":4.5},{"x":32.45,"y":4.53},{"x":32.5,"y":5.06},{"x":32.55,"y":5.03},{"x":32.6,"y":4.78},{"x":32.65,"y":4.8},{"x":32.7,"y":5.3},{"x":32.75,"y":5.18},{"x":32.8,"y":4.63},{"x":32.85,"y":4.63},{"x":32.9,"y":5.18},{"x":32.95,"y":4.93},
{"x":33.0,"y":5.16},{"x":33.05,"y":4.68},{"x":33.1,"y":4.73},{"x":33.15,"y":5.0},{"x":33.2,"y":4.98},{"x":33.25,"y":4.48},{"x":33.3,"y":4.46},{"x":33.35,"y":5.13},{"x":33.4,"y":5.23},{"x":33.45,"y":4.83},{"x":33.5,"y":4.63},{"x":33.55,"y":5.23},{"x":33.6,"y":5.33},{"x":33.65,"y":4.73},{"x":33.7,"y":4.78},{"x":33.75,"y":4.96},{"x":33.8,"y":5.08},{"x":33.85,"y":4.58},{"x":33.9,"y":4.58},{"x":33.95,"y":5.08},
{"x":34.0,"y":4.93},{"x":34.05,"y":4.93},{"x":34.1,"y":4.68},{"x":34.15,"y":4.63},{"x":34.2,"y":5.26},{"x":34.25,"y":5.18},{"x":34.3,"y":4.8},{"x":34.35,"y":4.8},{"x":34.4,"y":5.15},{"x":34.45,"y":5.03},{"x":34.5,"y":4.43},{"x":34.55,"y":4.53},{"x":34.6,"y":5.0},{"x":34.65,"y":5.28},{"x":34.7,"y":4.55},{"x":34.75,"y":4.66},{"x":34.8,"y":5.28},{"x":34.85,"y":5.16},{"x":34.9,"y":4.73},{"x":34.95,"y":4.78},
{"x":35.0,"y":5.0},{"x":35.05,"y":4.78},{"x":35.1,"y":4.53},{"x":35.15,"y":5.16},{"x":35.2,"y":5.16},{"x":35.25,"y":4.66},{"x":35.3,"y":4.7},{"x":35.35,"y":5.28},{"x":35.4,"y":5.28},{"x":35.45,"y":4.53},{"x":35.5,"y":4.58},{"x":35.55,"y":5.03},{"x":35.6,"y":4.93},{"x":35.65,"y":4.8},{"x":35.7,"y":4.32},{"x":35.75,"y":5.18},{"x":35.8,"y":5.1},{"x":35.85,"y":4.63},{"x":35.9,"y":4.8},{"x":35.95,"y":4.93},
{"x":36.0,"y":5.18},{"x":36.05,"y":4.78},{"x":36.1,"y":4.63},{"x":36.15,"y":5.16},{"x":36.2,"y":5.3},{"x":36.25,"y":4.66},{"x":36.3,"y":4.78},{"x":36.35,"y":5.28},{"x":36.4,"y":5.06},{"x":36.45,"y":4.53},{"x":36.5,"y":4.5},{"x":36.55,"y":5.03},{"x":36.6,"y":5.1},{"x":36.65,"y":4.8},{"x":36.7,"y":4.83},{"x":36.75,"y":5.18},{"x":36.8,"y":5.23},{"x":36.85,"y":4.63},{"x":36.9,"y":4.6},{"x":36.95,"y":4.93},
{"x":37.0,"y":4.66},{"x":37.05,"y":4.68},{"x":37.1,"y":5.21},{"x":37.15,"y":5.0},{"x":37.2,"y":4.76},{"x":37.25,"y":4.48},{"x":37.3,"y":5.13},{"x":37.35,"y":5.13},{"x":37.4,"y":4.5},{"x":37.45,"y":4.83},{"x":37.5,"y":5.06},{"x":37.55,"y":5.23},{"x":37.6,"y":4.6},{"x":37.65,"y":4.73},{"x":37.7,"y":5.3},{"x":37.75,"y":4.96},{"x":37.8,"y":4.83},{"x":37.85,"y":4.58},{"x":37.9,"y":5.03},{"x":37.95,"y":5.08},
{"x":38.0,"y":5.13},{"x":38.05,"y":4.93},{"x":38.1,"y":4.48},{"x":38.15,"y":4.63},{"x":38.2,"y":5.03},{"x":38.25,"y":5.18},{"x":38.3,"y":4.66},{"x":38.35,"y":4.8},{"x":38.4,"y":5.36},{"x":38.45,"y":5.03},{"x":38.5,"y":4.76},{"x":38.55,"y":4.53},{"x":38.6,"y":5.18},{"x":38.65,"y":5.28},{"x":38.7,"y":4.53},{"x":38.75,"y":4.66},{"x":38.8,"y":4.96},{"x":38.85,"y":5.16},{"x":38.9,"y":4.7},{"x":38.95,"y":4.78},
{"x":39.0,"y":4.58},{"x":39.05,"y":5.08},{"x":39.1,"y":5.08},{"x":39.15,"y":4.58},{"x":39.2,"y":4.78},{"x":39.25,"y":4.96},{"x":39.3,"y":5.36},{"x":39.35,"y":4.73},{"x":39.4,"y":4.63},{"x":39.45,"y":5.23},{"x":39.5,"y":5.23},{"x":39.55,"y":4.83},{"x":39.6,"y":4.46},{"x":39.65,"y":5.13},{"x":39.7,"y":4.98},{"x":39.75,"y":4.48},{"x":39.8,"y":4.73},{"x":39.85,"y":5.0},{"x":39.9,"y":5.16},{"x":39.95,"y":4.68},{"x":40.0,"y":4.85}],
"notes": [{"x":39.66,"y":5.894,"label":"evaporated thin film","series":"film"},{"x":39.61,"y":5.499,"label":"x10","series":"film"},{"x":39.26,"y":1.766,"label":"powder sample","series":"powder"},{"x":39.16,"y":0.603,"label":"calcd. from the crystal data","series":"calc"},{"x":39.11,"y":0.223,"label":"(triclinic)","series":"calc"}],
"compound": [{"x":38.52,"y":6.31,"label":"SnPc"}]
},
"resolve": {"axis": {"x": "independent", "y": "independent"}},
"layer": [
{"data": {"name": "calc"},
 "mark": {"type": "line", "color": "#0a0a40", "strokeWidth": 2.5, "strokeJoin": "round", "clip": true},
 "encoding": {
  "x": {"field": "x", "type": "quantitative", "scale": {"domain": [5, 40], "nice": false, "zero": false},
        "axis": {"orient": "bottom", "values": [10, 20, 30, 40], "tickSize": -16, "tickWidth": 2.5, "tickColor": "black", "domain": false, "grid": false,
                 "labelFont": "Liberation Serif, Times New Roman, Times, serif", "labelFontSize": 40, "labelColor": "black", "labelPadding": 20, "labelFlush": false, "labelOverlap": false, "labelBound": false,
                 "title": "2 θ / degree", "titleFont": "Liberation Serif, Times New Roman, Times, serif", "titleFontSize": 42, "titleFontWeight": "normal", "titleColor": "black", "titleX": 375, "titleY": 83, "titleBaseline": "alphabetic"}},
  "y": {"field": "y", "type": "quantitative", "scale": {"domain": [-0.617, 6.603], "nice": false, "zero": false},
        "axis": {"orient": "left", "values": [0, 1, 2, 3, 4, 5, 6], "tickSize": -5, "tickWidth": 2, "tickColor": "black", "labels": false, "domain": false, "grid": false,
                 "title": "Intensity (arb. units)", "titleFont": "Liberation Serif, Times New Roman, Times, serif", "titleFontSize": 59, "titleFontWeight": "normal", "titleColor": "black", "titleX": -21, "titleY": 573, "titleBaseline": "alphabetic"}}
 }},
{"data": {"name": "powder"},
 "mark": {"type": "line", "color": "#ff0000", "strokeWidth": 3, "strokeJoin": "round", "clip": true},
 "encoding": {
  "x": {"field": "x", "type": "quantitative",
        "axis": {"orient": "bottom", "values": [15, 25, 35], "tickSize": -9, "tickWidth": 2.5, "tickColor": "black", "labels": false, "domain": false, "grid": false, "title": null}},
  "y": {"field": "y", "type": "quantitative",
        "axis": {"orient": "right", "values": [0, 1, 2, 3, 4, 5, 6], "tickSize": -5, "tickWidth": 2, "tickColor": "black", "labels": false, "domain": false, "grid": false, "title": null}}
 }},
{"data": {"name": "film"},
 "mark": {"type": "line", "color": "#0000ff", "strokeWidth": 3, "strokeJoin": "round", "clip": true},
 "encoding": {
  "x": {"field": "x", "type": "quantitative", "axis": null},
  "y": {"field": "y", "type": "quantitative", "axis": null}
 }},
{"data": {"name": "film10"},
 "mark": {"type": "line", "color": "#0000ff", "strokeWidth": 3, "strokeJoin": "round", "clip": true},
 "encoding": {
  "x": {"field": "x", "type": "quantitative", "axis": null},
  "y": {"field": "y", "type": "quantitative", "axis": null}
 }},
{"data": {"name": "notes"},
 "mark": {"type": "text", "align": "right", "baseline": "alphabetic", "font": "Liberation Serif, Times New Roman, Times, serif", "fontSize": 42},
 "encoding": {
  "x": {"field": "x", "type": "quantitative", "axis": null},
  "y": {"field": "y", "type": "quantitative", "axis": null},
  "text": {"field": "label"},
  "color": {"field": "series", "type": "nominal", "scale": {"domain": ["film", "powder", "calc"], "range": ["#0000ff", "#ff0000", "#000000"]}, "legend": null}
 }},
{"data": {"name": "compound"},
 "mark": {"type": "text", "align": "right", "baseline": "alphabetic", "font": "Liberation Serif, Times New Roman, Times, serif", "fontSize": 30, "color": "black"},
 "encoding": {
  "x": {"field": "x", "type": "quantitative", "axis": null},
  "y": {"field": "y", "type": "quantitative", "axis": null},
  "text": {"field": "label"}
 }}
]
}
